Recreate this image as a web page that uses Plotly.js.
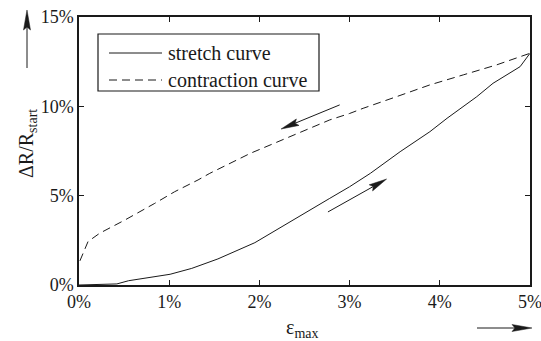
<!DOCTYPE html>
<html>
<head>
<meta charset="utf-8">
<script src="https://cdn.plot.ly/plotly-3.0.1.min.js"></script>
<style>html,body{margin:0;padding:0;background:#fff;}</style>
</head>
<body>
<div id="chart"></div>
<script>
// ---- data (strain in %, relative resistance change in %) ----
var stretchX = [0, 0.2, 0.42, 0.55, 0.84, 1.01, 1.25, 1.54, 1.95, 2.19, 2.6, 2.78, 3.0, 3.23, 3.56, 3.89, 4.08, 4.41, 4.59, 4.89, 5.0];
var stretchY = [0, 0.02, 0.06, 0.24, 0.47, 0.6, 0.93, 1.46, 2.37, 3.1, 4.32, 4.85, 5.5, 6.25, 7.46, 8.58, 9.33, 10.54, 11.29, 12.22, 12.97];
var contractX = [0.01, 0.1, 0.23, 0.51, 0.84, 1.06, 1.32, 1.45, 1.9, 2.34, 2.78, 3.0, 3.15, 3.52, 3.89, 4.26, 4.63, 5.0];
var contractY = [1.35, 2.43, 2.9, 3.64, 4.57, 5.22, 5.88, 6.25, 7.37, 8.3, 9.24, 9.6, 9.89, 10.54, 11.2, 11.76, 12.32, 12.97];
var seriesNames = ['stretch curve', 'contraction curve'];
var xTickVals = [0, 1, 2, 3, 4, 5];
var xTickText = ['0%', '1%', '2%', '3%', '4%', '5%'];
var yTickVals = [0, 5, 10, 15];
var yTickText = ['0%', '5%', '10%', '15%'];
var xTitle = '\u03b5<sub>max</sub>';
var yTitle = '\u0394R/R<sub>start</sub>';
// direction arrows inside the plot (data units: [x%, y%])
var arrowContractTail = [2.89, 10.08], arrowContractHead = [2.24, 8.73];
var arrowStretchTail = [2.76, 4.09], arrowStretchHead = [3.41, 5.93];

// ---- layout geometry ----
var W = 541, H = 341, L = 79, R = 11, T = 17, B = 56;
var PW = W - L - R, PH = H - T - B;
var XR = [0, 5], YR = [0, 15];
var ink = '#1a1a1a';
var FONT = 'Liberation Serif';

function pxToPaperX(px) { return (px - L) / PW; }
function pxToPaperY(py) { return (H - B - py) / PH; }
function dataToPx(d) {
  return [L + (d[0] - XR[0]) / (XR[1] - XR[0]) * PW, H - B - (d[1] - YR[0]) / (YR[1] - YR[0]) * PH];
}
function arrowShapes(tail, tip, headLen, halfW) {
  var dx = tip[0] - tail[0], dy = tip[1] - tail[1];
  var len = Math.sqrt(dx * dx + dy * dy);
  var ux = dx / len, uy = dy / len, nx = -uy, ny = ux;
  var bx = tip[0] - ux * headLen, by = tip[1] - uy * headLen;
  var p1 = [bx + nx * halfW, by + ny * halfW], p2 = [bx - nx * halfW, by - ny * halfW];
  var notch = [tip[0] - ux * headLen * 0.85, tip[1] - uy * headLen * 0.85];
  function P(p) { return pxToPaperX(p[0]).toFixed(5) + ',' + pxToPaperY(p[1]).toFixed(5); }
  return [
    {type: 'line', xref: 'paper', yref: 'paper', x0: pxToPaperX(tail[0]), y0: pxToPaperY(tail[1]),
     x1: pxToPaperX(notch[0]), y1: pxToPaperY(notch[1]), line: {color: ink, width: 1}},
    {type: 'path', xref: 'paper', yref: 'paper',
     path: 'M' + P(tip) + 'L' + P(p1) + 'L' + P(notch) + 'L' + P(p2) + 'Z',
     fillcolor: ink, line: {color: ink, width: 0.5}}
  ];
}

var traces = [
  {x: stretchX, y: stretchY, type: 'scatter', mode: 'lines', name: seriesNames[0], showlegend: false,
   line: {color: ink, width: 1}},
  {x: contractX, y: contractY, type: 'scatter', mode: 'lines', name: seriesNames[1], showlegend: false,
   line: {color: ink, width: 1, dash: '8px,5px'}}
];

var shapes = [];
shapes = shapes.concat(arrowShapes([27, 68], [27, 10], 20, 3.5));
shapes = shapes.concat(arrowShapes([477, 328], [532, 328], 20, 3.5));
shapes = shapes.concat(arrowShapes(dataToPx(arrowContractTail), dataToPx(arrowContractHead), 18, 3.5));
shapes = shapes.concat(arrowShapes(dataToPx(arrowStretchTail), dataToPx(arrowStretchHead), 18, 3.5));
// custom legend box
shapes.push({type: 'rect', xref: 'paper', yref: 'paper', x0: pxToPaperX(98), x1: pxToPaperX(319),
  y0: pxToPaperY(34), y1: pxToPaperY(91), line: {color: ink, width: 1.2}, fillcolor: 'rgba(255,255,255,1)'});
shapes.push({type: 'line', xref: 'paper', yref: 'paper', x0: pxToPaperX(109), x1: pxToPaperX(162),
  y0: pxToPaperY(53), y1: pxToPaperY(53), line: {color: ink, width: 1}});
shapes.push({type: 'line', xref: 'paper', yref: 'paper', x0: pxToPaperX(109), x1: pxToPaperX(162),
  y0: pxToPaperY(80), y1: pxToPaperY(80), line: {color: ink, width: 1, dash: '8px,5px'}});

var annotations = [
  {text: seriesNames[0], xref: 'paper', yref: 'paper', x: pxToPaperX(166), y: pxToPaperY(53),
   xanchor: 'left', yanchor: 'middle', showarrow: false, font: {family: FONT, size: 20, color: ink}},
  {text: seriesNames[1], xref: 'paper', yref: 'paper', x: pxToPaperX(166), y: pxToPaperY(80),
   xanchor: 'left', yanchor: 'middle', showarrow: false, font: {family: FONT, size: 20, color: ink}},
  {text: yTitle, xref: 'paper', yref: 'paper', x: pxToPaperX(27), y: pxToPaperY(144),
   xanchor: 'center', yanchor: 'middle', textangle: -90, showarrow: false,
   font: {family: FONT, size: 20, color: ink}},
  {text: xTitle, xref: 'paper', yref: 'paper', x: pxToPaperX(302), y: pxToPaperY(328),
   xanchor: 'center', yanchor: 'middle', showarrow: false,
   font: {family: FONT, size: 20, color: ink}}
];

var axisCommon = {
  showline: true, linecolor: ink, linewidth: 1.5, mirror: 'ticks',
  ticks: 'inside', ticklen: 5, tickwidth: 1, tickcolor: ink,
  showgrid: false, zeroline: false, fixedrange: true,
  ticklabeloverflow: 'allow',
  tickfont: {family: FONT, size: 18, color: ink}
};

var layout = {
  width: W, height: H,
  margin: {l: L, r: R, t: T, b: B, pad: 0},
  paper_bgcolor: '#fff', plot_bgcolor: '#fff',
  showlegend: false,
  font: {family: FONT, color: ink},
  xaxis: Object.assign({}, axisCommon, {range: XR, tickmode: 'array', tickvals: xTickVals, ticktext: xTickText}),
  yaxis: Object.assign({}, axisCommon, {range: YR, tickmode: 'array', tickvals: yTickVals, ticktext: yTickText}),
  shapes: shapes,
  annotations: annotations
};

Plotly.newPlot('chart', traces, layout, {displayModeBar: false});
</script>
</body>
</html>
